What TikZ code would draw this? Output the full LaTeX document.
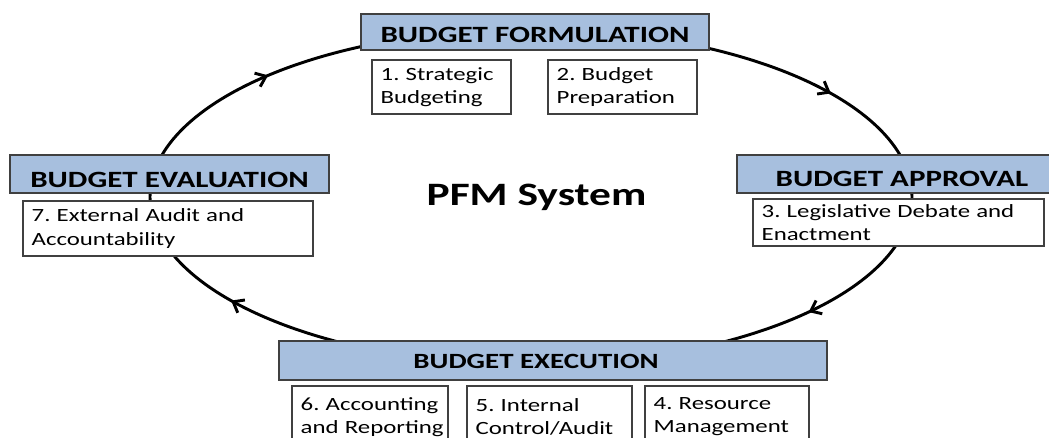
\documentclass[tikz,border=0pt]{standalone}
\usepackage{fontspec}
\setmainfont[FakeStretch=1.33]{Carlito}
\usepackage{tikz}
\usetikzlibrary{positioning,calc,arrows.meta,decorations.markings}
\definecolor{phaseblue}{RGB}{167,191,222}
\definecolor{boxgray}{RGB}{64,64,64}
\frenchspacing

\tikzset{
	phasefont/.style={font=\fontsize{17.5}{20}\selectfont\bfseries},
	phase/.style={rectangle,draw=boxgray,fill=phaseblue,line width=0.9pt,inner ysep=0pt,text depth=0pt,phasefont},
	task/.style={rectangle,draw=boxgray,fill=white,line width=0.9pt,inner xsep=6.5pt,inner ysep=0pt,align=left,
		font=\fontsize{14}{17.3}\selectfont},
	cycleline/.style={black,line width=2.2pt},
	cycletip/.tip={Straight Barb[length=7pt,width=11pt]}
}

\begin{document}
\begin{tikzpicture}[x=0.75pt,y=-0.75pt]
		
		\useasboundingbox (0,0) rectangle (1049,438);
		
		% the cycle
		\draw[cycleline,postaction={decorate},decoration={markings,
			mark=at position 0.091 with {\arrow{cycletip}},
			mark=at position 0.423 with {\arrow{cycletip}},
			mark=at position 0.600 with {\arrow{cycletip}},
			mark=at position 0.923 with {\arrow{cycletip}}}]
			(531,197) ellipse [x radius=381, y radius=168];
		
		\node[anchor=base,font=\fontsize{24.5}{28}\selectfont\bfseries] (pfm) at (536.5,206) {PFM System};
		
		% formulation
		\node[phase,minimum width=261pt,minimum height=27pt,text height=15.4pt] (form) at (535,32) {BUDGET FORMULATION};
		\node[task,text width=91.25pt,minimum height=40.5pt] (strat) at (441.5,87) {1. Strategic\\Budgeting};
		\node[task,text width=98.75pt,minimum height=40.5pt] (prep) at (622.5,87) {2. Budget\\Preparation};
		
		% approval
		\node[phase,minimum width=247.5pt,minimum height=28.5pt,text height=19.1pt] (appr) at (902,174) {BUDGET APPROVAL};
		\node[task,text width=205.25pt,minimum height=35.25pt] (legis) at (898.5,222.5) {3. Legislative Debate and\\Enactment};
		
		% execution
		\node[phase,minimum width=411pt,minimum height=29.25pt,
			label={[font=\fontsize{16.3}{19}\selectfont\bfseries,xshift=-12.75pt,yshift=-0.75pt]center:BUDGET EXECUTION}] (exec) at (553,360.5) {};
		\node[task,text width=104pt,minimum height=46.5pt] (acct) at (370,417) {\mbox{6. Accounting}\\\mbox{and Reporting}};
		\node[task,text width=110.75pt,minimum height=46.5pt] (ctrl) at (549.5,417) {5. Internal\\Control/Audit};
		\node[task,text width=110pt,minimum height=46.5pt] (res) at (727,417) {4. Resource\\Management};
		
		% evaluation
		\node[phase,minimum width=239.25pt,minimum height=28.5pt,text height=19.8pt] (eval) at (169.5,174) {BUDGET EVALUATION};
		\node[task,text width=204.5pt,minimum height=41.25pt] (audit) at (168,228.5) {7. External Audit and\\Accountability};
		
\end{tikzpicture}
\end{document}
